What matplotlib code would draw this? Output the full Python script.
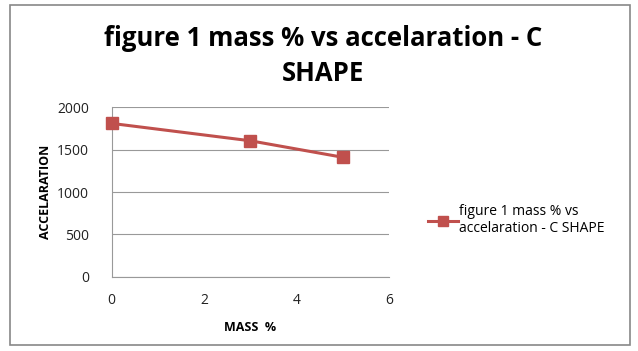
import matplotlib.pyplot as plt
from matplotlib.patches import Rectangle

mass = [0, 3, 5]
accel = [1810, 1605, 1410]
xticks = [0, 2, 4, 6]
yticks = [0, 500, 1000, 1500, 2000]
title = "figure 1 mass % vs accelaration - C\nSHAPE"
series_name = "figure 1 mass % vs\naccelaration - C SHAPE"

plt.rcParams['font.family'] = ['Open Sans', 'DejaVu Sans']

fig = plt.figure(figsize=(6.38, 3.51), dpi=100)
fig.patches.append(Rectangle((10/638, 1-345/351), 620/638, 340/351, transform=fig.transFigure,
                             fill=False, edgecolor='#888888', lw=1.2))

ax = fig.add_axes([111.5/638, 1-276.7/351, 277.5/638, 169.4/351])
ax.plot(mass, accel, color='#C0504D', lw=2.2, marker='s', ms=9, label=series_name,
        clip_on=False, zorder=3)
ax.set_xlim(0, 6)
ax.set_ylim(0, 2000)
ax.set_xticks(xticks)
ax.set_yticks(yticks)
ax.grid(axis='y', color='#999999', lw=0.8)
ax.set_axisbelow(True)
for s in ['top', 'right']:
    ax.spines[s].set_visible(False)
for s in ['left', 'bottom']:
    ax.spines[s].set_color('#999999')
ax.tick_params(length=0, labelsize=10, colors='#222222')
ax.tick_params(axis='y', pad=16)
ax.tick_params(axis='x', pad=12)
ax.set_xlabel("MASS  %", fontsize=9, fontweight='bold', labelpad=9)
ax.set_ylabel("ACCELARATION", fontsize=9, fontweight='bold', labelpad=4)

fig.text(323/638, 1-56/351, title, ha='center', va='center', fontsize=18.5, fontweight='bold',
         linespacing=1.4)

leg = fig.legend(loc='center left', bbox_to_anchor=(415/638, 1-220/351), frameon=False,
                 fontsize=10, handlelength=2.2, handletextpad=0.1, markerscale=0.8)

fig.savefig("out.png", dpi=100)
